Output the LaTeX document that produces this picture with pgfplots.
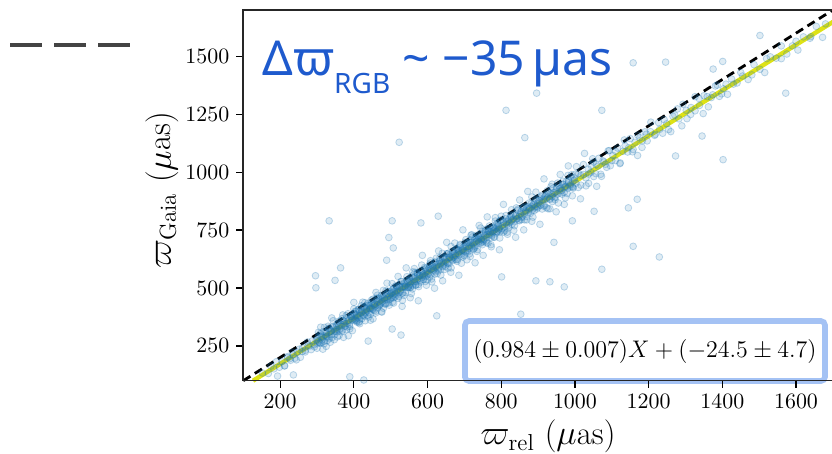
\documentclass[border=0pt]{standalone}
\usepackage{pgfplots}
\pgfplotsset{compat=1.18}
\usepackage{fontspec}
\newfontfamily\notosans{Noto Sans}
\usetikzlibrary{shadows}
\definecolor{tabblue}{RGB}{31,119,180}
\definecolor{fityellow}{RGB}{222,226,22}
\definecolor{textblue}{RGB}{30,90,205}
\definecolor{boxblue}{RGB}{164,194,244}
\definecolor{leggray}{RGB}{68,68,68}
\pgfplotstableread{
x y
152 133
168 131
175 163
183 151
190 182
198 158
205 182
212 164
220 204
226 195
233 223
240 197
247 223
255 201
261 242
268 231
274 267
281 250
287 272
293 246
298 275
302 284
305 267
309 304
312 264
316 289
319 259
323 308
326 291
330 335
333 281
337 314
340 298
344 334
347 277
351 330
354 322
358 356
361 316
365 336
368 312
372 359
375 336
379 381
382 332
386 361
389 324
393 376
396 362
399 391
301 260
401 381
403 363
406 399
408 358
410 381
413 351
415 398
417 380
420 423
422 368
424 399
427 383
429 417
431 359
434 411
436 402
438 434
441 394
443 412
445 387
448 433
450 409
452 452
455 403
457 430
459 392
462 443
464 428
466 456
469 426
471 428
473 463
476 440
478 459
480 413
483 456
485 433
487 487
490 449
492 477
494 436
497 466
499 452
404 400
446 412
501 475
503 458
505 492
508 435
510 486
512 477
515 510
517 469
519 487
522 463
524 508
526 484
529 528
531 478
533 505
536 468
538 518
540 503
543 532
545 501
547 526
550 509
552 544
554 503
557 527
559 496
561 543
564 526
566 568
568 513
571 535
573 558
575 515
578 555
580 533
582 575
585 546
587 558
589 537
592 589
594 528
596 571
599 565
507 495
553 504
601 558
604 588
606 547
609 580
611 539
614 593
616 579
619 611
621 570
624 592
626 562
629 605
631 590
634 632
636 580
639 613
641 593
644 633
646 580
649 616
651 632
654 609
656 650
659 605
661 633
664 587
666 643
669 631
671 657
674 625
676 641
679 670
681 623
684 659
686 644
689 685
691 638
694 663
696 634
699 679
702 678
704 660
707 696
709 655
712 679
714 648
717 696
719 678
722 721
724 666
727 698
729 681
732 716
734 658
737 710
739 701
742 734
744 693
747 712
749 687
752 733
754 709
757 753
759 703
762 731
764 693
767 744
769 729
772 758
774 727
777 738
779 761
782 719
784 758
787 737
789 779
792 750
794 762
797 742
799 793
803 757
806 787
809 747
813 781
816 741
819 795
823 783
826 815
829 775
833 798
836 769
839 812
843 799
846 841
849 790
853 824
856 805
859 845
863 794
866 830
869 847
873 825
876 867
879 822
883 852
886 806
889 863
893 852
896 879
899 847
903 877
907 857
911 901
915 853
919 883
923 847
927 905
931 885
935 937
939 873
943 911
947 893
951 935
955 867
959 930
963 921
967 961
971 913
975 936
979 908
983 963
987 936
991 989
995 931
999 965
1003 952
1010 994
1016 944
1023 990
1030 941
1036 1013
1043 999
1050 1044
1056 994
1063 1026
1070 991
1076 1049
1083 1034
1090 1092
1096 1028
1103 1072
1110 1050
1116 1104
1123 1040
1130 1090
1136 1114
1143 1087
1150 1145
1156 1088
1163 1129
1170 1072
1176 1149
1183 1136
1190 1174
1196 1135
1205 1175
1216 1159
1227 1214
1238 1168
1249 1209
1260 1175
1271 1246
1282 1230
1293 1293
1304 1231
1315 1279
1326 1265
1337 1318
1348 1253
1359 1326
1370 1322
1381 1372
1392 1327
1403 1360
1414 1336
1425 1402
1440 1385
1455 1415
1470 1400
1486 1464
1502 1444
1515 1430
1530 1498
1546 1492
1560 1545
1575 1510
1590 1545
1605 1527
1620 1584
1638 1578
1655 1629
1672 1582
523 1129
333 790
504 790
582 781
629 810
495 718
507 673
489 620
364 587
296 553
297 501
349 533
389 117
427 103
193 120
236 125
504 323
528 297
439 271
625 380
864 1149
1402 1054
1345 1156
1273 1070
1158 680
1229 634
1073 581
894 531
932 527
971 505
943 697
801 548
1145 846
1169 883
1052 831
993 790
853 387
1502 1590
1572 1341
1246 1475
1158 1472
896 1341
813 1267
1073 1267
1401 1478
1375 1445
212 164
220 200
228 188
236 212
244 190
252 236
260 226
268 224
276 250
284 234
292 255
300 240
304 309
308 263
312 297
316 236
320 330
324 289
328 273
332 327
336 266
340 315
344 359
348 298
352 312
356 346
360 295
364 344
368 368
372 287
376 346
380 320
384 389
388 343
392 377
396 316
400 410
404 369
408 353
412 407
416 346
420 395
424 439
428 378
432 392
436 426
440 375
444 424
448 448
452 367
456 426
460 400
464 469
468 423
472 457
476 396
480 490
484 449
488 433
492 487
496 426
500 475
504 519
508 458
512 472
516 506
520 455
524 504
528 528
532 447
536 506
540 480
544 549
548 503
552 537
556 476
560 570
564 529
568 513
572 567
576 506
580 555
584 599
588 538
592 552
596 586
600 535
604 584
608 608
612 527
616 586
620 560
624 629
628 583
632 617
636 556
640 650
644 609
648 593
652 647
656 586
660 635
664 679
668 618
672 632
676 666
680 615
684 664
688 688
692 607
696 666
700 640
704 709
708 663
712 697
716 636
720 730
724 689
728 673
732 727
736 666
740 715
744 759
748 698
752 712
756 746
760 695
764 744
768 768
772 687
776 746
780 720
784 789
788 743
792 777
796 716
800 810
806 741
813 813
820 770
827 807
834 749
841 846
848 808
855 795
862 852
869 794
876 846
883 893
890 835
897 852
904 889
911 841
918 893
925 920
932 842
939 904
946 881
953 953
960 910
967 947
974 889
981 986
988 948
995 935
1002 992
1009 934
1016 986
1023 1033
1030 975
1037 992
1044 1029
1051 981
1058 1033
1065 1060
1072 982
1079 1044
1086 1021
1093 1093
1100 1050
1110 1090
1122 1037
1134 1139
1146 1106
1158 1098
1170 1160
1182 1107
1194 1164
1206 1216
1218 1163
1230 1185
1242 1227
1254 1184
1266 1241
1278 1273
1290 1200
1302 1267
1314 1249
1326 1326
1338 1288
1350 1330
1362 1282
1374 1334
1386 1376
1398 1338
1410 1380
1430 1380
1450 1430
1480 1420
1520 1490
1560 1490
1600 1565
1640 1585
1680 1640
302 272
305 293
308 263
311 289
314 276
317 312
320 270
323 295
326 308
329 287
332 324
335 300
338 313
341 286
344 329
347 314
350 320
353 341
356 311
359 337
362 324
365 360
368 318
371 343
374 356
377 335
380 372
383 348
386 361
389 334
392 377
395 362
398 368
401 389
404 359
407 385
410 372
413 408
416 366
419 391
422 404
425 383
428 420
431 396
434 409
437 382
440 425
443 410
446 416
449 437
452 407
455 433
458 420
461 456
464 414
467 439
470 452
473 431
476 468
479 444
482 457
485 430
488 473
491 458
494 464
497 485
500 455
503 481
506 468
509 504
512 462
515 487
518 500
521 479
524 516
527 492
530 505
533 478
536 521
539 506
542 512
545 533
548 503
551 529
554 516
557 552
560 510
563 535
566 548
569 527
572 564
575 540
578 553
581 526
584 569
587 554
590 560
593 581
596 551
599 577
602 564
605 600
608 558
611 583
614 596
617 575
620 612
623 588
626 601
629 574
632 617
635 602
638 608
641 629
644 599
647 625
650 612
653 648
656 606
659 631
662 644
665 623
668 660
671 636
674 649
677 622
680 665
683 650
686 656
689 677
692 647
695 673
698 660
701 696
704 654
707 679
710 692
713 671
716 708
719 684
722 697
725 670
728 713
731 698
734 704
737 725
740 695
743 721
746 708
749 744
752 702
755 727
758 740
761 719
764 756
767 732
770 745
773 718
776 761
779 746
782 752
785 773
788 743
791 769
794 756
797 792
800 750
803 770
806 783
809 762
812 799
815 775
818 788
821 761
824 804
827 789
830 795
833 816
836 786
839 812
842 799
845 835
848 793
851 818
854 831
857 810
860 847
863 823
866 836
869 809
872 852
875 837
878 843
881 864
884 834
887 860
890 847
893 883
896 841
899 866
902 879
905 858
908 895
911 871
914 884
917 857
920 900
923 885
926 891
929 912
932 882
935 908
938 895
941 931
944 889
947 914
950 927
953 906
956 943
959 919
962 932
965 905
968 948
971 933
974 939
977 960
980 930
983 956
986 943
989 979
992 937
995 962
998 975
520 550
531 421
542 587
553 458
564 584
575 445
586 641
597 512
608 618
619 499
630 660
641 531
652 697
663 568
674 694
685 555
696 751
707 622
718 728
729 609
740 770
751 641
762 807
773 678
784 804
795 665
806 861
817 732
828 838
839 719
850 880
861 751
872 917
883 788
894 914
905 775
916 971
927 842
938 948
949 829
960 990
971 861
982 1027
993 898
1004 1024
1015 885
1026 1081
1037 952
1048 1058
1059 939
310 331
325 248
340 371
355 289
370 384
385 294
400 438
415 355
430 437
445 361
460 481
475 398
490 521
505 439
}\scatterdata
\begin{document}
\begin{tikzpicture}
\begin{axis}[
  width=294.8pt, height=185.35pt, scale only axis,
  xmin=100, xmax=1700, ymin=100, ymax=1700,
  clip=false, axis on top,
  tick pos=left, tick align=outside, major tick length=3.5pt,
  xtick={200,400,...,1600}, ytick={250,500,...,1500},
  every tick/.style={black, line width=0.6pt},
  axis line style={line width=0.8pt, black!85},
  ticklabel style={font=\fontsize{10.5}{12}\selectfont},
  /pgf/number format/1000 sep={},
  scaled ticks=false,
  xlabel={$\varpi_{\mathrm{rel}}$ ($\mu$as)},
  ylabel={$\varpi_{\mathrm{Gaia}}$ ($\mu$as)},
  label style={font=\fontsize{16.5}{19}\selectfont},
  xlabel style={at={(axis description cs:0.517,-0.151)}, anchor=center},
  ylabel style={at={(axis description cs:-0.137,0.514)}, anchor=center},
]
\coordinate (bl) at (rel axis cs:0,0);
\addplot[only marks, mark=*, mark size=1.7pt,
  mark options={fill=tabblue, fill opacity=0.14, draw=tabblue, draw opacity=0.28, line width=0.4pt}]
  table[x=x, y=y] {\scatterdata};
\addplot[fityellow, line width=2.2pt] coordinates {(126.5,100) (1700,1648.3)};
\addplot[black, line width=1.4pt, dash pattern=on 4.2pt off 2.6pt] coordinates {(100,100) (1700,1700)};
\draw[leggray, line width=1.8pt, dash pattern=on 16pt off 6pt] (axis cs:-533,1549) -- (axis cs:-207,1549);
\node[anchor=base west, inner sep=0pt, text=textblue, font=\notosans\fontsize{24}{28}\selectfont]
  at (axis cs:150.7,1418) {Δϖ\raisebox{-9pt}{\fontsize{14}{16}\selectfont RGB}\ \textasciitilde\ −35\,µas};
\node[draw=boxblue, line width=2.8pt, rounded corners=2pt, fill=white,
  minimum width=180pt, minimum height=30pt, inner sep=0pt,
  drop shadow={opacity=0.25, shadow xshift=0.8pt, shadow yshift=-0.8pt},
  font=\fontsize{13}{15}\selectfont]
  at (axis cs:1190,228) {$(0.984\pm0.007)X+(-24.5\pm4.7)$};
\end{axis}
\pgfresetboundingbox
\path[use as bounding box] ([shift={(-121.65pt,-36.65pt)}]bl) rectangle ([shift={(294.35pt,190.35pt)}]bl);
\end{tikzpicture}
\end{document}
